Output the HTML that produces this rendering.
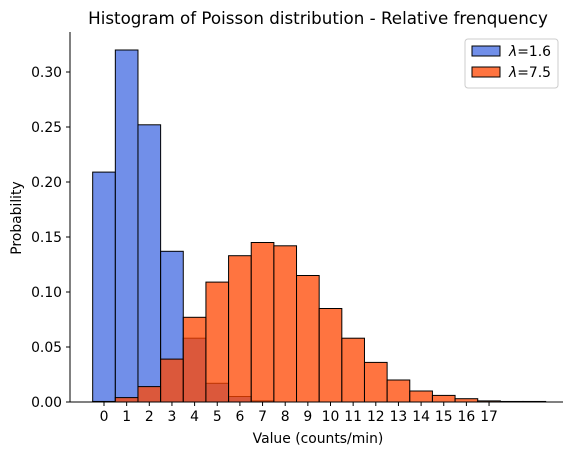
<!DOCTYPE html>
<html><head><meta charset="utf-8"><style>body{margin:0;background:#fff}svg{font-family:"DejaVu Sans","Liberation Sans",sans-serif}</style></head>
<body>
<svg id="c" width="576" height="455"></svg>
<script>
const categories=[0,1,2,3,4,5,6,7,8,9,10,11,12,13,14,15,16,17,18,19];
const blueValues=[0.209,0.320,0.252,0.137,0.058,0.017,0.005,0.001,0,0,0,0,0,0,0,0,0,0,0,0];
const orangeValues=[0.0005,0.004,0.014,0.039,0.077,0.109,0.133,0.145,0.142,0.115,0.085,0.058,0.036,0.020,0.010,0.006,0.003,0.001,0.0005,0.0005];
const yTicks=[0,0.05,0.10,0.15,0.20,0.25,0.30];
const xTicks=[0,1,2,3,4,5,6,7,8,9,10,11,12,13,14,15,16,17];
const NS="http://www.w3.org/2000/svg",svg=document.getElementById('c');
const x=v=>104+v*22.65, y=v=>402-v*1100;
function mk(t,a,p){const e=document.createElementNS(NS,t);for(const k in a)e.setAttribute(k,a[k]);(p||svg).appendChild(e);return e;}
function bars(vals,fill,name){vals.forEach((v,i)=>{if(v<=0)return;const r=mk('rect',{x:x(categories[i]-0.5),y:y(v),width:22.65,height:y(0)-y(v),fill:fill,'fill-opacity':0.75,stroke:'#000','stroke-width':1});

});}
bars(blueValues,'royalblue','lambda-1.6');
bars(orangeValues,'orangered','lambda-7.5');
let a=mk('line',{x1:70,y1:32,x2:70,y2:402,stroke:'#000'});
a=mk('line',{x1:70,y1:402,x2:563,y2:402,stroke:'#000'});
yTicks.forEach(t=>{mk('line',{x1:66,x2:70,y1:y(t),y2:y(t),stroke:'#000'});const e=mk('text',{x:62,y:y(t)+5,'text-anchor':'end','font-size':13.9});e.textContent=t.toFixed(2);
});
xTicks.forEach(t=>{mk('line',{x1:x(t),x2:x(t),y1:402,y2:406,stroke:'#000'});const e=mk('text',{x:x(t),y:421,'text-anchor':'middle','font-size':13.9});e.textContent=t;
});
let t=mk('text',{x:318,y:24,'text-anchor':'middle','font-size':16.7});t.textContent='Histogram of Poisson distribution - Relative frenquency';
t=mk('text',{x:318,y:443,'text-anchor':'middle','font-size':13.9});t.textContent='Value (counts/min)';
t=mk('text',{x:21,y:218,'text-anchor':'middle','font-size':13.9,transform:'rotate(-90 21 218)'});t.textContent='Probability';
const lg=mk('g',{});
mk('rect',{x:465,y:39,width:93,height:49,rx:3,fill:'#fff',stroke:'#ccc'},lg);
[['royalblue','1.6',46],['orangered','7.5',67]].forEach(([c,l,yy])=>{mk('rect',{x:472,y:yy,width:28,height:10,fill:c,'fill-opacity':0.75,stroke:'#000'},lg);
const e=mk('text',{x:509,y:yy+10,'font-size':13.9},lg);e.innerHTML='<tspan font-style="italic">λ</tspan>='+l;});
</script>
</body></html>
